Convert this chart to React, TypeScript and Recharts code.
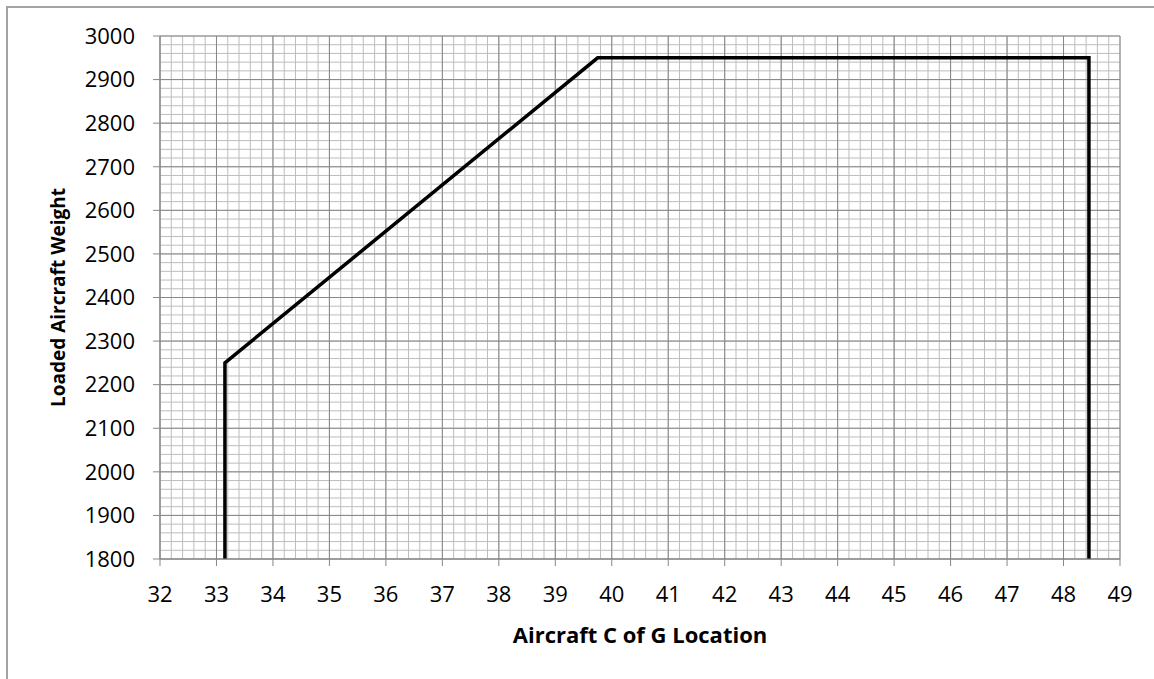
import * as React from "react";
import { LineChart, Line, XAxis, YAxis, CartesianGrid, Label } from "recharts";

// envelope outline
const cgLocation = [33.15, 33.15, 39.75, 48.45, 48.45];
const loadedWeight = [1800, 2250, 2950, 2950, 1800];

const xTicks = [32, 33, 34, 35, 36, 37, 38, 39, 40, 41, 42, 43, 44, 45, 46, 47, 48, 49];
const yTicks = [1800, 1900, 2000, 2100, 2200, 2300, 2400, 2500, 2600, 2700, 2800, 2900, 3000];

// graph paper: five minor divisions per major step
function minorSteps(ticks: number[]): number[] {
  const out: number[] = [];
  for (let i = 0; i < ticks.length - 1; i++) {
    const step = (ticks[i + 1] - ticks[i]) / 5;
    for (let k = 0; k < 5; k++) out.push(Math.round((ticks[i] + k * step) * 100) / 100);
  }
  out.push(ticks[ticks.length - 1]);
  return out;
}
const xMinor = minorSteps(xTicks);
const yMinor = minorSteps(yTicks);

const data = cgLocation.map((x, i) => ({ x, w: loadedWeight[i] }));

const FONT = "'Open Sans', 'Liberation Sans', sans-serif";
const tickStyle = { fontSize: 22, fill: "#000", fontFamily: FONT };

function XTitle({ viewBox }: any) {
  const cx = viewBox.x + viewBox.width / 2;
  return (
    <text x={cx} y={634} textAnchor="middle" dominantBaseline="central"
      style={{ fontSize: 22, fontWeight: 700, fontFamily: FONT, fill: "#000" }}>
      Aircraft C of G Location
    </text>
  );
}

function YTitle({ viewBox }: any) {
  const cx = 58;
  const cy = viewBox.y + viewBox.height / 2;
  return (
    <text x={cx} y={cy} textAnchor="middle" dominantBaseline="central"
      transform={`rotate(-90, ${cx}, ${cy})`}
      style={{ fontSize: 19, fontWeight: 700, fontFamily: FONT, fill: "#000" }}>
      Loaded Aircraft Weight
    </text>
  );
}

export default function App() {
  return (
    <div style={{ position: "absolute", left: 0, top: 0, width: 1154, height: 679, overflow: "hidden", background: "#fff" }}>
      <div style={{ position: "absolute", left: 6, top: 6, width: 1200, height: 720, border: "2px solid #a3a3a3" }} />
      <div style={{ position: "absolute", left: 0, top: 0 }}>
        <LineChart width={1154} height={679} data={data} margin={{ top: 36, right: 34, bottom: 60, left: 100 }}>
          <XAxis xAxisId="minor" dataKey="x" type="number" domain={[32, 49]} ticks={xMinor} interval={0} hide allowDataOverflow />
          <YAxis yAxisId="minor" type="number" domain={[1800, 3000]} ticks={yMinor} interval={0} hide allowDataOverflow />
          <CartesianGrid xAxisId="minor" yAxisId="minor" stroke="#bdbdbd" strokeWidth={1} />
          <CartesianGrid stroke="#878787" strokeWidth={1} />
          <XAxis dataKey="x" type="number" domain={[32, 49]} ticks={xTicks} interval={0} height={60}
            allowDataOverflow stroke="#878787" tickSize={7} tickMargin={20} tick={tickStyle}>
            <Label content={<XTitle />} />
          </XAxis>
          <YAxis type="number" domain={[1800, 3000]} ticks={yTicks} interval={0} width={60}
            allowDataOverflow stroke="#878787" tickSize={7} tickMargin={18} tick={tickStyle}>
            <Label content={<YTitle />} />
          </YAxis>
          <Line type="linear" dataKey="w" stroke="#000" strokeWidth={3.5} dot={false} isAnimationActive={false} />
        </LineChart>
      </div>
    </div>
  );
}
